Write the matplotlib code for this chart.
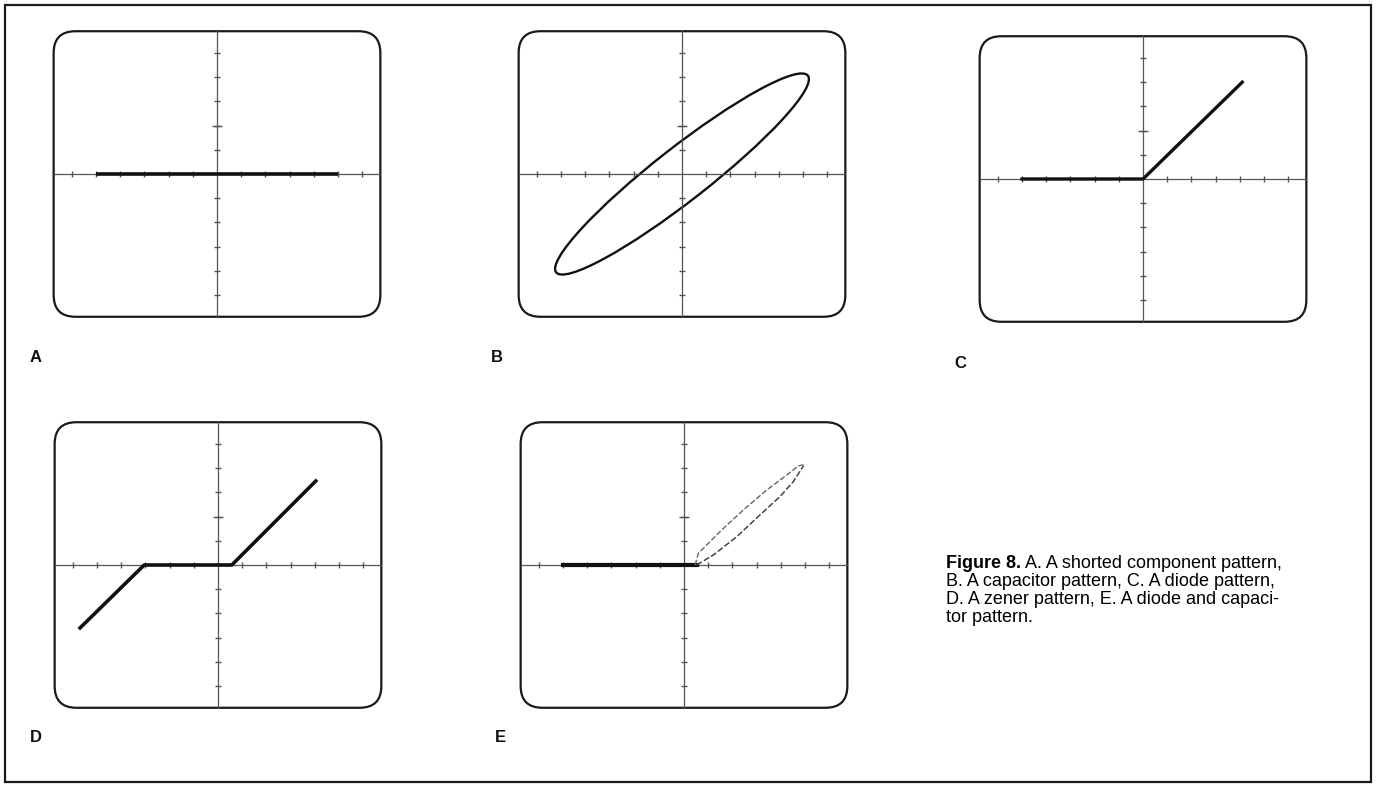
#/usr/bin/env python3
import numpy as np
import matplotlib
matplotlib.use("Agg")
import matplotlib.pyplot as plt
from matplotlib.patches import FancyBboxPatch, Ellipse, Rectangle

# graticule divisions (scope screen units)
grid_x = [-6, -5, -4, -3, -2, -1, 1, 2, 3, 4, 5, 6]
grid_y = [-5, -4, -3, -2, -1, 1, 2, 3, 4, 5]

# A: shorted component -> flat line
trace_a_x = [-5.0, 5.0]
trace_a_y = [0.0, 0.0]

# B: capacitor -> tilted ellipse (centre, full width, full height, angle deg)
ellipse_b_center = (0.0, 0.0)
ellipse_b_width = 13.2
ellipse_b_height = 2.2
ellipse_b_angle = 38.0

# C: diode
trace_c_x = [-5.0, 0.0, 4.1]
trace_c_y = [0.0, 0.0, 4.0]

# D: zener
trace_d_x = [-5.7, -3.05, 0.57, 4.04]
trace_d_y = [-2.6, 0.0, 0.0, 3.47]

# E: diode and capacitor
trace_e_flat_x = [-5.0, 0.52]
trace_e_flat_y = [0.0, 0.0]
loop_e_upper_x = [0.46, 0.59, 0.94, 1.56, 2.46, 3.42, 4.25, 4.73, 4.94]
loop_e_upper_y = [0.0, 0.48, 0.83, 1.45, 2.28, 3.10, 3.72, 4.10, 4.14]
loop_e_lower_x = [0.52, 1.21, 2.18, 3.14, 3.97, 4.52, 4.94]
loop_e_lower_y = [0.0, 0.41, 1.17, 2.07, 2.83, 3.45, 4.10]

panel_labels = ["A", "B", "C", "D", "E"]
caption_bold = "Figure 8."
caption_lines = [" A. A shorted component pattern,",
                 "B. A capacitor pattern, C. A diode pattern,",
                 "D. A zener pattern, E. A diode and capaci-",
                 "tor pattern."]

W, H = 1376, 785
UNIT = 24.2          # pixels per division
XR, YR = 7.0, 6.2    # half extent of each panel axes, in divisions
BOX_W, BOX_H = 13.5, 11.8

plt.rcParams["font.family"] = ["Liberation Sans", "DejaVu Sans"]


def scope(fig, cx, cy):
    ax = fig.add_axes([(cx - XR * UNIT) / W, 1 - (cy + YR * UNIT) / H,
                       2 * XR * UNIT / W, 2 * YR * UNIT / H])
    ax.set_xlim(-XR, XR)
    ax.set_ylim(-YR, YR)
    ax.axis("off")
    box = FancyBboxPatch((-BOX_W / 2, -BOX_H / 2), BOX_W, BOX_H,
                         boxstyle="round,pad=0,rounding_size=0.9",
                         fill=False, lw=1.6, ec="#1a1a1a")
    ax.add_patch(box)
    ax.plot([-BOX_W / 2, BOX_W / 2], [0, 0], color="#555555", lw=0.9)
    ax.plot([0, 0], [-BOX_H / 2, BOX_H / 2], color="#555555", lw=0.9)
    ax.plot(grid_x, np.zeros(len(grid_x)), ls="none", marker="|", ms=4,
            mew=1.0, color="#555555")
    ax.plot(np.zeros(len(grid_y)), grid_y, ls="none", marker="_", ms=4,
            mew=1.0, color="#555555")
    ax.plot([0], [2], ls="none", marker="_", ms=7, mew=1.0, color="#555555")
    return ax


def main():
    fig = plt.figure(figsize=(W / 100, H / 100), dpi=100)

    # outer frame
    frame = fig.add_axes([0, 0, 1, 1])
    frame.set_xlim(0, W)
    frame.set_ylim(H, 0)
    frame.axis("off")
    frame.add_patch(Rectangle((5, 5), W - 10, H - 8, fill=False,
                              lw=1.6, ec="#1a1a1a"))

    centers = [(217, 174), (682, 174), (1143, 179), (218, 565), (684, 565)]
    label_pos = [(36, 357), (497, 357), (960, 363), (36, 738), (500, 738)]
    axes = [scope(fig, cx, cy) for cx, cy in centers]

    axes[0].plot(trace_a_x, trace_a_y, color="#111111", lw=2.6,
                 solid_capstyle="butt")
    axes[1].add_patch(Ellipse(ellipse_b_center, ellipse_b_width,
                              ellipse_b_height, angle=ellipse_b_angle,
                              fill=False, lw=1.7, ec="#111111"))
    axes[2].plot(trace_c_x, trace_c_y, color="#111111", lw=2.4)
    axes[3].plot(trace_d_x, trace_d_y, color="#111111", lw=2.6)
    axes[4].plot(trace_e_flat_x, trace_e_flat_y, color="#111111", lw=3.0)
    axes[4].plot(loop_e_upper_x, loop_e_upper_y, color="#666666", lw=1.0,
                 ls=(0, (4, 1.5)))
    axes[4].plot(loop_e_lower_x, loop_e_lower_y, color="#444444", lw=1.1,
                 ls=(0, (4, 1.5)))

    for lab, (lx, ly) in zip(panel_labels, label_pos):
        frame.text(lx, ly, lab, fontsize=12, fontweight="bold",
                   ha="center", va="center", color="#111111")

    # caption, bold lead-in followed by plain text
    x0 = 946
    fs = 13
    baselines = [568, 586, 604, 622]
    t = frame.text(x0, baselines[0], caption_bold, fontsize=fs,
                   fontweight="bold", ha="left", va="baseline")
    fig.canvas.draw()
    bb = t.get_window_extent()
    frame.text(x0 + bb.width, baselines[0], caption_lines[0], fontsize=fs,
               ha="left", va="baseline")
    for line, yb in zip(caption_lines[1:], baselines[1:]):
        frame.text(x0, yb, line, fontsize=fs, ha="left", va="baseline")

    plt.savefig("out.png", dpi=100)


if __name__ == "__main__":
    main()
